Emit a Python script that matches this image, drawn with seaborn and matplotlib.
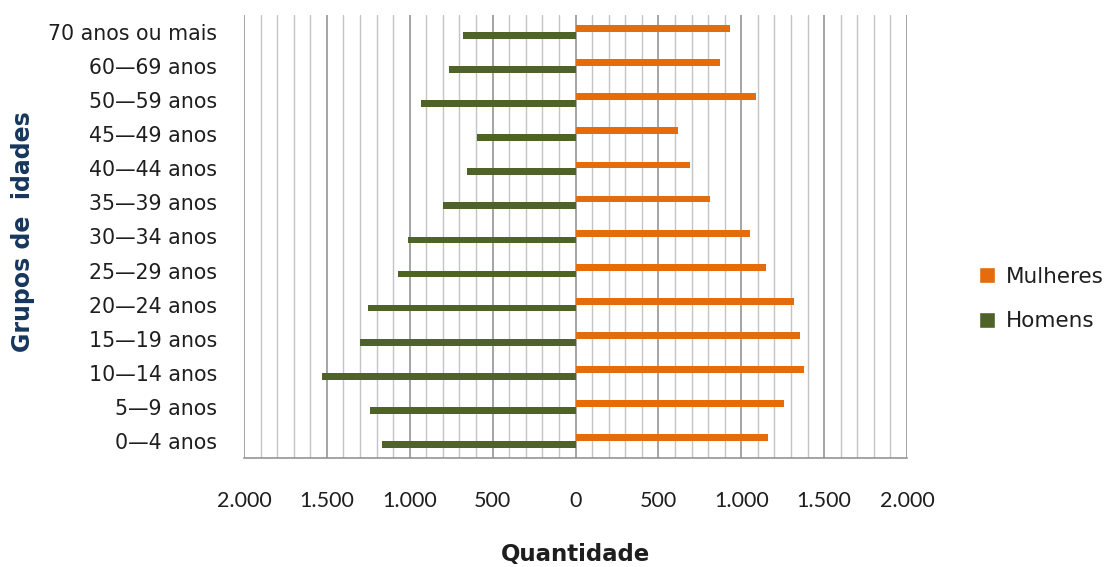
import matplotlib
matplotlib.use("Agg")
import matplotlib.pyplot as plt
from matplotlib.ticker import FuncFormatter, MultipleLocator
from matplotlib.patches import Patch
import seaborn as sns
import pandas as pd

# Age groups, listed from the top of the chart downwards
grupos = [
    "70 anos ou mais", "60—69 anos", "50—59 anos", "45—49 anos",
    "40—44 anos", "35—39 anos", "30—34 anos", "25—29 anos",
    "20—24 anos", "15—19 anos", "10—14 anos", "5—9 anos", "0—4 anos",
]
mulheres = [934, 873, 1090, 621, 693, 811, 1054, 1150, 1318, 1354, 1378, 1258, 1162]
homens = [680, 765, 935, 594, 656, 800, 1008, 1071, 1250, 1299, 1529, 1238, 1165]

cor_mulheres = "#E46C0A"
cor_homens = "#4F6228"
cor_texto = "#1e1e1e"

df = pd.concat([
    pd.DataFrame({"grupo": grupos, "sexo": "Mulheres", "valor": mulheres}),
    pd.DataFrame({"grupo": grupos, "sexo": "Homens", "valor": [-v for v in homens]}),
])

sns.set_style("white")
plt.rcParams["font.family"] = ["DejaVu Sans"]

W, H = 1113, 567
fig = plt.figure(figsize=(W / 100, H / 100), dpi=100)
ax = fig.add_axes([244 / W, 1 - 458 / H, (907 - 244) / W, (458 - 15) / H])

sns.barplot(
    data=df, y="grupo", x="valor", hue="sexo",
    order=grupos, hue_order=["Mulheres", "Homens"],
    palette={"Mulheres": cor_mulheres, "Homens": cor_homens},
    orient="h", width=0.4, dodge=True, ax=ax, legend=False,
    edgecolor="none", saturation=1,
)

ax.set_xlim(-2000, 2000)
ax.set_ylim(len(grupos) - 0.5, -0.5)

# vertical grid: every 100 light, every 500 darker
ax.xaxis.set_major_locator(MultipleLocator(500))
ax.xaxis.set_minor_locator(MultipleLocator(100))
ax.grid(False)
ax.set_axisbelow(True)
for v in range(-2000, 2001, 100):
    if v % 500 == 0:
        ax.axvline(v, color="#8c8c8c", lw=1.1, zorder=0)
    else:
        ax.axvline(v, color="#c4c4c4", lw=1.0, zorder=0)

ax.xaxis.set_major_formatter(
    FuncFormatter(lambda x, p: f"{abs(int(round(x))):,}".replace(",", "."))
)
ax.tick_params(axis="x", which="major", length=8, width=1, color="#8c8c8c",
               labelcolor=cor_texto, pad=16)
ax.tick_params(axis="x", which="minor", length=0)
ax.tick_params(axis="y", length=0, labelsize=14.8, labelcolor=cor_texto, pad=19.5)
for lbl in ax.get_xticklabels():
    lbl.set_fontfamily("Lato")
    lbl.set_fontsize(15.5)

for side in ["top", "right", "left"]:
    ax.spines[side].set_visible(False)
ax.spines["bottom"].set_color("#8c8c8c")
ax.spines["bottom"].set_linewidth(1.1)

ax.set_xlabel("")
ax.set_ylabel("")
fig.text(575 / W, 1 - 561 / H, "Quantidade", ha="center", va="baseline",
         fontsize=16.5, fontweight="bold", color=cor_texto)
fig.text(23 / W, 1 - 232 / H, "Grupos de  idades", ha="center", va="center",
         rotation=90, fontsize=17, fontweight="bold", color="#17365D")

handles = [Patch(facecolor=cor_mulheres, label="Mulheres"),
           Patch(facecolor=cor_homens, label="Homens")]
fig.legend(handles=handles, loc="center left", bbox_to_anchor=(979 / W, 1 - 299 / H),
           frameon=False, fontsize=15.5, handlelength=0.72, handleheight=0.72,
           handletextpad=0.55, labelspacing=1.15, borderpad=0, borderaxespad=0,
           labelcolor=cor_texto)

fig.savefig("out.png", dpi=100)
